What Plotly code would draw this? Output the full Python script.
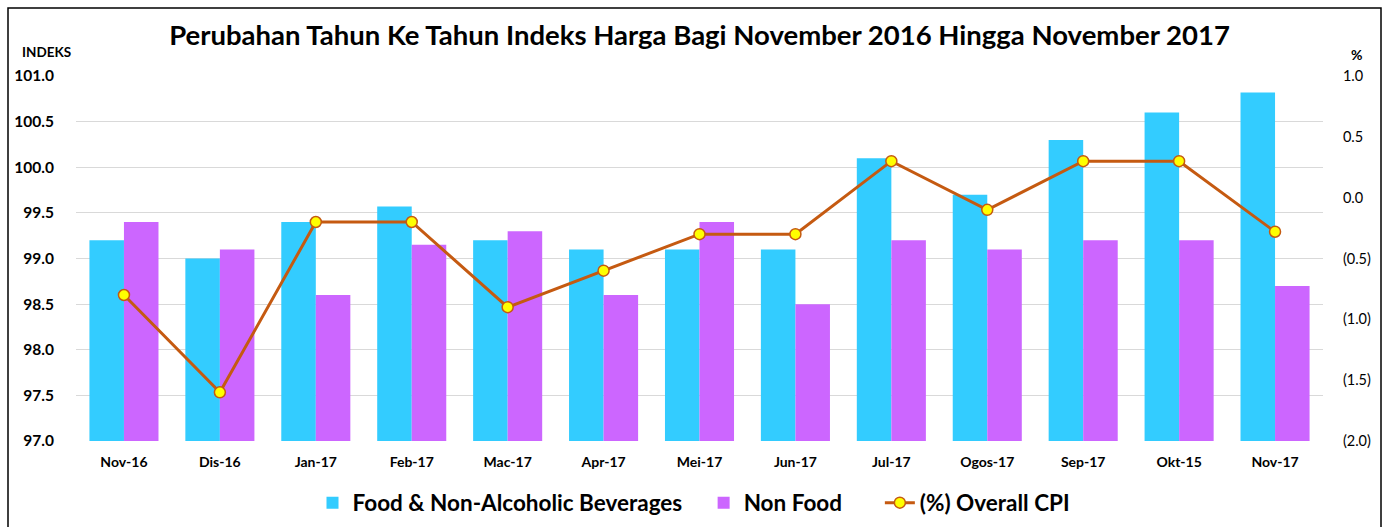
import plotly.graph_objects as go

categories = ["Nov-16", "Dis-16", "Jan-17", "Feb-17", "Mac-17", "Apr-17", "Mei-17",
              "Jun-17", "Jul-17", "Ogos-17", "Sep-17", "Okt-15", "Nov-17"]
food = [99.2, 99.0, 99.4, 99.57, 99.2, 99.1, 99.1, 99.1, 100.1, 99.7, 100.3, 100.6, 100.82]
non_food = [99.4, 99.1, 98.6, 99.15, 99.3, 98.6, 99.4, 98.5, 99.2, 99.1, 99.2, 99.2, 98.7]
cpi = [-0.8, -1.6, -0.2, -0.2, -0.9, -0.6, -0.3, -0.3, 0.3, -0.1, 0.3, 0.3, -0.28]

left_ticks = [97.0, 97.5, 98.0, 98.5, 99.0, 99.5, 100.0, 100.5, 101.0]
right_ticks = [-2.0, -1.5, -1.0, -0.5, 0.0, 0.5, 1.0]
right_labels = ["(2.0)", "(1.5)", "(1.0)", "(0.5)", "0.0", "0.5", "1.0"]

FONT = "Lato"
W, H = 1388, 527
ML, MR, MT, MB = 76, 65, 76, 86
PW, PH = W - ML - MR, H - MT - MB


def px_x(p):
    return (p - ML) / PW


def px_y(p):
    return (H - MB - p) / PH


fig = go.Figure()
fig.add_trace(go.Bar(x=categories, y=food,
                     name="Food & Non-Alcoholic Beverages" + "\u00a0" * 3,
                     marker=dict(color="#33CCFF", line=dict(width=0))))
fig.add_trace(go.Bar(x=categories, y=non_food, name="Non Food" + "\u00a0" * 6,
                     marker=dict(color="#CC66FF", line=dict(width=0))))
fig.add_trace(go.Scatter(x=categories, y=cpi, name="(%) Overall CPI", yaxis="y2",
                         mode="lines+markers",
                         line=dict(color="#C55A11", width=3),
                         marker=dict(size=11, color="#FFFF00",
                                     line=dict(color="#C55A11", width=1.5))))

fig.update_layout(
    width=W, height=H,
    margin=dict(l=ML, r=MR, t=MT, b=MB, autoexpand=False),
    paper_bgcolor="white", plot_bgcolor="white",
    barmode="group", bargap=0.28, bargroupgap=0,
    font=dict(family=FONT, color="#000000"),
    title=dict(text="Perubahan Tahun Ke Tahun Indeks Harga Bagi November 2016 Hingga November 2017",
               x=0.5, xanchor="center", xref="paper", y=1 - 35 / H, yanchor="middle",
               font=dict(size=27.5, family=FONT, weight="bold", color="#000000")),
    xaxis=dict(range=[-0.5, len(categories) - 0.5],
               showgrid=False, showline=False, ticks="outside", ticklen=8,
               tickcolor="rgba(0,0,0,0)", automargin=False,
               tickfont=dict(size=14, family=FONT, weight="bold")),
    yaxis=dict(range=[97, 101], tickvals=left_ticks,
               ticktext=[f"{v:.1f}" for v in left_ticks],
               showgrid=True, gridcolor="#D9D9D9", gridwidth=1,
               zeroline=False, showline=False, ticks="outside", ticklen=18,
               tickcolor="rgba(0,0,0,0)", automargin=False,
               tickfont=dict(size=15.5, family=FONT, weight="bold")),
    yaxis2=dict(range=[-2, 1], overlaying="y", side="right",
                tickvals=right_ticks, ticktext=right_labels,
                showgrid=False, zeroline=False, showline=False,
                ticks="outside", ticklen=16, tickcolor="rgba(0,0,0,0)",
                automargin=False,
                tickfont=dict(size=14.5, family=FONT)),
    legend=dict(orientation="h", x=px_x(694), xanchor="center",
                y=px_y(503), yanchor="middle",
                font=dict(size=22.5, family=FONT, weight="bold"),
                itemwidth=30, tracegroupgap=0),
    showlegend=True,
)

fig.add_annotation(text="INDEKS", xref="paper", yref="paper",
                   x=px_x(20), y=px_y(52), xanchor="left", yanchor="middle",
                   showarrow=False, font=dict(size=13.5, family=FONT, weight="bold"))
fig.add_annotation(text="%", xref="paper", yref="paper",
                   x=px_x(1356), y=px_y(54), xanchor="center", yanchor="middle",
                   showarrow=False, font=dict(size=14, family=FONT, weight="bold"))

fig.add_shape(type="rect", xref="paper", yref="paper",
              x0=px_x(8), x1=px_x(1381), y0=px_y(560), y1=px_y(8),
              line=dict(color="#000000", width=1.5), fillcolor="rgba(0,0,0,0)",
              layer="below")

fig.write_html("out.html", config={"displayModeBar": False},
               post_script="document.body.style.margin='0';document.body.style.overflow='hidden';")
